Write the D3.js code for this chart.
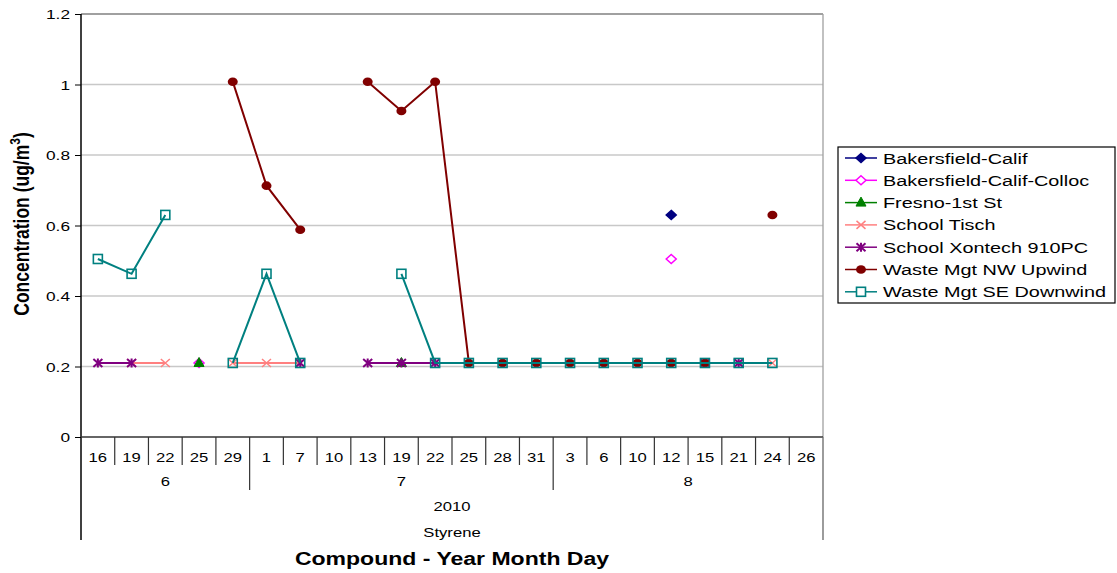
<!DOCTYPE html>
<html><head><meta charset="utf-8">
<script src="https://cdn.jsdelivr.net/npm/d3@7"></script>
<style>body{margin:0;background:#fff;} svg{display:block;font-family:"Liberation Sans",Arial,sans-serif;}</style>
</head><body>
<svg id="c" width="1117" height="573"></svg>
<script>
const days = ["16","19","22","25","29","1","7","10","13","19","22","25","28","31","3","6","10","12","15","21","24","26"];
const months = [{label:"6", start:0, end:5},{label:"7", start:5, end:14},{label:"8", start:14, end:22}];
const yearLabel = "2010";
const compoundLabel = "Styrene";
const yTicks = [0,0.2,0.4,0.6,0.8,1,1.2];
const N = null;
const bakersfield = [N,N,N,N,N,N,N,N,N,N,N,N,N,N,N,N,N,0.63,N,N,N,N];
const bakersfieldColloc = [N,N,N,0.21,N,N,N,N,N,N,N,N,N,N,N,N,N,0.505,N,N,N,N];
const fresno = [N,N,N,0.21,N,N,N,N,N,0.21,N,N,N,N,N,N,N,N,N,N,N,N];
const schoolTisch = [N,0.21,0.21,N,0.21,0.21,0.21,N,N,N,N,N,N,N,N,N,N,N,N,0.21,0.21,N];
const schoolXontech = [0.21,0.21,N,N,N,N,0.21,N,0.21,0.21,0.21,N,N,N,N,N,N,N,0.21,0.21,N,N];
const wasteNW = [N,N,N,N,1.008,0.713,0.588,N,1.008,0.925,1.008,0.21,0.21,0.21,0.21,0.21,0.21,0.21,0.21,N,0.63,N];
const wasteSE = [0.505,0.463,0.63,N,0.21,0.463,0.21,N,N,0.463,0.21,0.21,0.21,0.21,0.21,0.21,0.21,0.21,0.21,0.21,0.21,N];

const series = [
  {name:"Bakersfield-Calif", values:bakersfield, color:"#000080", marker:"diamond", fill:"#000080"},
  {name:"Bakersfield-Calif-Colloc", values:bakersfieldColloc, color:"#ff00ff", marker:"diamond", fill:"#fff"},
  {name:"Fresno-1st St", values:fresno, color:"#008000", marker:"triangle", fill:"#008000"},
  {name:"School Tisch", values:schoolTisch, color:"#ff8080", marker:"x", fill:"none"},
  {name:"School Xontech 910PC", values:schoolXontech, color:"#800080", marker:"star", fill:"none"},
  {name:"Waste Mgt NW Upwind", values:wasteNW, color:"#800000", marker:"circle", fill:"#800000"},
  {name:"Waste Mgt SE Downwind", values:wasteSE, color:"#008080", marker:"square", fill:"none"}
];

const svg = d3.select("#c");
const SX = 1.28; // horizontal text stretch
function txt(g, x, y, str, size, anchor, weight) {
  return g.append("text").attr("transform", `translate(${x},${y}) scale(${SX},1)`)
    .attr("text-anchor", anchor || "start").attr("font-size", size).attr("font-weight", weight || "normal")
    .attr("fill", "#000").text(str);
}
const L = 81, R = 823, T = 14, B = 437;
const x = d3.scaleBand().domain(d3.range(days.length)).range([L, R]).paddingInner(0).paddingOuter(0);
const y = d3.scaleLinear().domain([0, 1.2]).range([B, T]);
const bw = x.bandwidth();

// gridlines
svg.append("g").selectAll("line").data(yTicks.filter(d => d > 0 && d < 1.2)).join("line")
  .attr("x1", L).attr("x2", R).attr("y1", d => y(d)).attr("y2", d => y(d))
  .attr("stroke", "#c8c8c8").attr("stroke-width", 1.3);
svg.append("line").attr("x1", L).attr("x2", R).attr("y1", y(1.2)).attr("y2", y(1.2)).attr("stroke", "#808080").attr("stroke-width", 1.3);
svg.append("line").attr("x1", R).attr("x2", R).attr("y1", T).attr("y2", B).attr("stroke", "#a0a0a0").attr("stroke-width", 1.3);

// y axis ticks
const yAxis = d3.axisLeft(y).tickValues(yTicks).tickSize(6).tickFormat("");
const gy = svg.append("g").attr("transform", `translate(${L},0)`).call(yAxis);
gy.select(".domain").remove();
gy.selectAll(".tick line").attr("stroke", "#000");
yTicks.forEach(t => txt(svg, 70, y(t) + 5, d3.format("")(t), 13.5, "end"));
svg.append("line").attr("x1", L).attr("x2", L).attr("y1", T).attr("y2", 540).attr("stroke", "#000").attr("stroke-width", 1.5);

// x axis
svg.append("line").attr("x1", L).attr("x2", R).attr("y1", B).attr("y2", B).attr("stroke", "#333").attr("stroke-width", 1.5);
svg.append("line").attr("x1", R).attr("x2", R).attr("y1", B).attr("y2", 540).attr("stroke", "#666").attr("stroke-width", 1.3);
const gx = svg.append("g");
d3.range(1, days.length).forEach(i => {
  const isMonth = months.some(m => m.start === i);
  gx.append("line").attr("x1", x(i)).attr("x2", x(i)).attr("y1", B).attr("y2", isMonth ? 490 : 465)
    .attr("stroke", "#333").attr("stroke-width", 1.2);
});
days.forEach((d, i) => txt(gx, x(i) + bw / 2, 462, d, 13, "middle"));
months.forEach(m => txt(gx, (x(m.start) + (m.end < days.length ? x(m.end) : R)) / 2, 486, m.label, 13, "middle"));
txt(svg, (L + R) / 2, 511, yearLabel, 13, "middle");
txt(svg, (L + R) / 2, 537, compoundLabel, 13, "middle");

// axis titles
txt(svg, 452, 565, "Compound - Year Month Day", 18, "middle", "bold");
const yt = svg.append("text").attr("transform", `translate(29,${224}) rotate(-90) scale(1,${SX})`).attr("text-anchor", "middle").attr("font-size", 17.5).attr("font-weight", "bold");
yt.append("tspan").text("Concentration (ug/m");
yt.append("tspan").attr("dy", -7).attr("font-size", 12).text("3");
yt.append("tspan").attr("dy", 7).text(")");

// markers
function drawMarker(g, type, cx, cy, color, fill) {
  if (type === "diamond") {
    g.append("path").attr("d", `M${cx},${cy-4.5}L${cx+5},${cy}L${cx},${cy+4.5}L${cx-5},${cy}Z`)
      .attr("fill", fill).attr("stroke", color).attr("stroke-width", 1.5);
  } else if (type === "triangle") {
    g.append("path").attr("d", `M${cx},${cy-5.5}L${cx+5},${cy+3.5}L${cx-5},${cy+3.5}Z`).attr("fill", fill).attr("stroke", color);
  } else if (type === "x") {
    g.append("path").attr("d", `M${cx-4.5},${cy-4}L${cx+4.5},${cy+4}M${cx-4.5},${cy+4}L${cx+4.5},${cy-4}`).attr("stroke", color).attr("stroke-width", 1.5);
  } else if (type === "star") {
    g.append("path").attr("d", `M${cx-4.5},${cy-4}L${cx+4.5},${cy+4}M${cx-4.5},${cy+4}L${cx+4.5},${cy-4}M${cx},${cy-4.5}L${cx},${cy+4.5}`).attr("stroke", color).attr("stroke-width", 2);
  } else if (type === "circle") {
    g.append("ellipse").attr("cx", cx).attr("cy", cy).attr("rx", 5).attr("ry", 4.3).attr("fill", fill);
  } else if (type === "square") {
    g.append("rect").attr("x", cx - 4.5).attr("y", cy - 4.5).attr("width", 9).attr("height", 9).attr("fill", fill).attr("stroke", color).attr("stroke-width", 1.6);
  }
}

const line = d3.line().defined(d => d != null).x((d, i) => x(i) + bw / 2).y(d => y(d));
series.forEach(s => {
  const g = svg.append("g");
  g.append("path").datum(s.values).attr("d", line).attr("fill", "none").attr("stroke", s.color).attr("stroke-width", 2);
  s.values.forEach((v, i) => { if (v != null) drawMarker(g, s.marker, x(i) + bw / 2, y(v), s.color, s.fill); });
});

// legend
const lg = svg.append("g");
lg.append("rect").attr("x", 838).attr("y", 147).attr("width", 277).attr("height", 156).attr("fill", "#fff").attr("stroke", "#000").attr("stroke-width", 1.2);
series.forEach((s, i) => {
  const cy = 158 + i * 22.3;
  lg.append("line").attr("x1", 845).attr("x2", 877).attr("y1", cy).attr("y2", cy).attr("stroke", s.color).attr("stroke-width", 1.5);
  drawMarker(lg, s.marker, 861, cy, s.color, s.fill === "none" ? "#fff" : s.fill);
  txt(lg, 883, cy + 5.5, s.name, 15.5, "start");
});
</script>
</body></html>
